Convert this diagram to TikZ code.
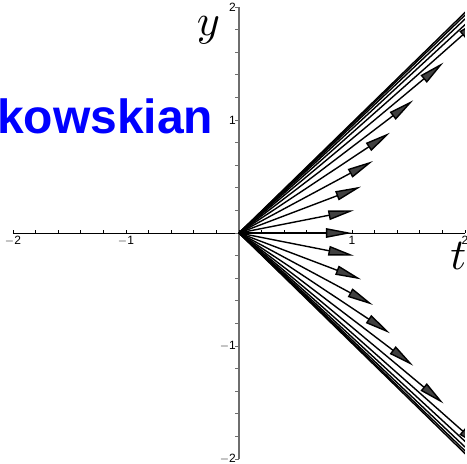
\documentclass[tikz,border=0pt]{standalone}
\usepackage{fontspec}
\setsansfont{Liberation Sans}
\usetikzlibrary{arrows.meta}
\definecolor{headgray}{RGB}{64,64,64}
\definecolor{yaxgray}{RGB}{110,110,110}
\begin{document}
\begin{tikzpicture}[x=113pt,y=113pt,
  vec/.style={line width=1.4pt,-{Triangle[length=26pt,width=9.5pt,fill=headgray]}},
  ticklab/.style={font=\sffamily\fontsize{12}{12}\selectfont,inner sep=0pt},
  axlab/.style={scale=4.4,inner sep=0pt},
  title/.style={anchor=base west,inner sep=0pt,text=blue,font=\sffamily\bfseries\fontsize{48}{48}\selectfont}]
\useasboundingbox (-239pt,-231pt) rectangle (228pt,233pt);
% title fragment
\node[title] (ttl) at (-242pt,100pt) {kowskian};
% axes
\draw[line width=1pt] (-2,0) -- (2,0);
\draw[yaxgray,line width=1.3pt] (0,-2) -- (0,2);
\foreach \i in {-10,...,10} {
  \draw[line width=0.8pt] ({0.2*\i},0) -- ++(0,3.5pt);
  \draw[yaxgray,line width=0.8pt] (0,{0.2*\i}) -- ++(-3.5pt,0);
}
\foreach \v/\l in {-2/{$-$2},-1/{$-$1},1/1,2/2} {
  \node[ticklab,anchor=north] at (\v,0) [yshift=-3pt] {\l};
  \node[ticklab,anchor=east] at (0,\v) [xshift=-3pt] {\l};
}
% axis labels
\node[axlab] (ylab) at (-0.27,1.79) {$y$};
\node[axlab] (tlab) at (1.94,-0.2) {$t$};
% vectors
\begin{scope}
\clip (-2,-2) rectangle (2,2);
\foreach \i in {-11,...,11} {
  \pgfmathsetmacro\a{0.2*\i}
  \draw[vec] (0,0) -- ({cosh(\a)},{sinh(\a)});
}
\end{scope}
\end{tikzpicture}
\end{document}
